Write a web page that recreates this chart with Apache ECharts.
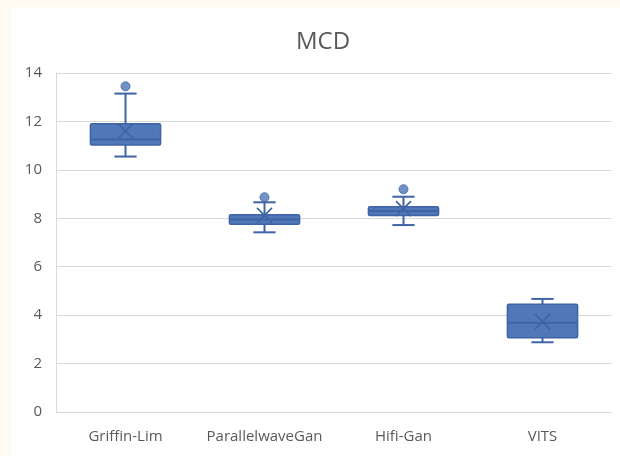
<!DOCTYPE html>
<html>
<head>
<meta charset="utf-8">
<script src="https://cdn.jsdelivr.net/npm/echarts@6/dist/echarts.min.js"></script>
<style>
html,body{margin:0;padding:0;background:#fffaf2;width:620px;height:456px;overflow:hidden;}
#chart{position:absolute;left:12px;top:7px;width:608px;height:449px;background:#ffffff;}
</style>
</head>
<body>
<div id="chart"></div>
<script>
const categories = ['Griffin-Lim', 'ParallelwaveGan', 'Hifi-Gan', 'VITS'];
const whiskerLow = [10.55, 7.42, 7.72, 2.88];
const q1 = [11.03, 7.75, 8.11, 3.07];
const median = [11.25, 7.95, 8.3, 3.69];
const q3 = [11.9, 8.15, 8.48, 4.45];
const whiskerHigh = [13.15, 8.66, 8.89, 4.67];
const means = [11.6, 8.12, 8.4, 3.73];
const outlierCategory = [0, 1, 2];
const outlierValue = [13.45, 8.87, 9.2];
const yTicks = [0, 2, 4, 6, 8, 10, 12, 14];

const boxData = categories.map((c, i) => [i, whiskerLow[i], q1[i], median[i], q3[i], whiskerHigh[i], means[i]]);
const outlierData = outlierCategory.map((c, i) => [c, outlierValue[i]]);

const FILL = '#5077b8';
const EDGE = '#3f64a6';
const FONT = 'Open Sans';

const chart = echarts.init(document.getElementById('chart'), null, {renderer: 'canvas'});
chart.setOption({
  animation: false,
  backgroundColor: '#ffffff',
  title: {
    text: 'MCD',
    left: 306,
    textAlign: 'center',
    top: 18,
    textStyle: {fontFamily: FONT, fontSize: 24, fontWeight: 'normal', color: '#595959'}
  },
  grid: {left: 44, right: 8, top: 66, bottom: 44, containLabel: false},
  xAxis: {
    type: 'category',
    data: categories,
    boundaryGap: true,
    axisLine: {show: true, lineStyle: {color: '#d9d9d9', width: 1}},
    axisTick: {show: false},
    axisLabel: {fontFamily: FONT, fontSize: 15, color: '#595959', margin: 17, interval: 0},
    splitLine: {show: false}
  },
  yAxis: {
    type: 'value',
    min: yTicks[0],
    max: yTicks[yTicks.length - 1],
    interval: 2,
    axisLine: {show: true, lineStyle: {color: '#d9d9d9', width: 1}},
    axisTick: {show: false},
    axisLabel: {fontFamily: FONT, fontSize: 15, color: '#595959', margin: 14},
    splitLine: {show: true, lineStyle: {color: '#d9d9d9', width: 1}}
  },
  series: [
    {
      type: 'custom',
      data: boxData,
      encode: {x: 0, y: [1, 2, 3, 4, 5]},
      renderItem: function (params, api) {
        const idx = api.value(0);
        const band = api.size([1, 0])[0];
        const bw = band * 0.505;
        const cw = band * 0.16;
        const pLow = api.coord([idx, api.value(1)]);
        const pQ1 = api.coord([idx, api.value(2)]);
        const pMed = api.coord([idx, api.value(3)]);
        const pQ3 = api.coord([idx, api.value(4)]);
        const pHigh = api.coord([idx, api.value(5)]);
        const pMean = api.coord([idx, api.value(6)]);
        const cx = pQ1[0];
        const xs = 7.5;
        const lineStyle = {stroke: EDGE, lineWidth: 2, fill: null};
        return {
          type: 'group',
          children: [
            {type: 'line', shape: {x1: cx, y1: pHigh[1], x2: cx, y2: pLow[1]}, style: lineStyle},
            {type: 'line', shape: {x1: cx - cw / 2, y1: pHigh[1], x2: cx + cw / 2, y2: pHigh[1]}, style: lineStyle},
            {type: 'line', shape: {x1: cx - cw / 2, y1: pLow[1], x2: cx + cw / 2, y2: pLow[1]}, style: lineStyle},
            {type: 'rect', shape: {x: cx - bw / 2, y: pQ3[1], width: bw, height: pQ1[1] - pQ3[1], r: 1.5},
              style: {fill: FILL, stroke: EDGE, lineWidth: 1.5}},
            {type: 'line', shape: {x1: cx - bw / 2, y1: pMed[1], x2: cx + bw / 2, y2: pMed[1]}, style: lineStyle},
            {type: 'line', shape: {x1: cx - xs, y1: pMean[1] - xs, x2: cx + xs, y2: pMean[1] + xs}, style: {stroke: EDGE, lineWidth: 1.6}},
            {type: 'line', shape: {x1: cx - xs, y1: pMean[1] + xs, x2: cx + xs, y2: pMean[1] - xs}, style: {stroke: EDGE, lineWidth: 1.6}}
          ]
        };
      },
      z: 3
    },
    {
      type: 'scatter',
      data: outlierData,
      symbol: 'circle',
      symbolSize: 9,
      itemStyle: {color: FILL, borderColor: EDGE, borderWidth: 1},
      z: 4
    }
  ]
});
</script>
</body>
</html>
